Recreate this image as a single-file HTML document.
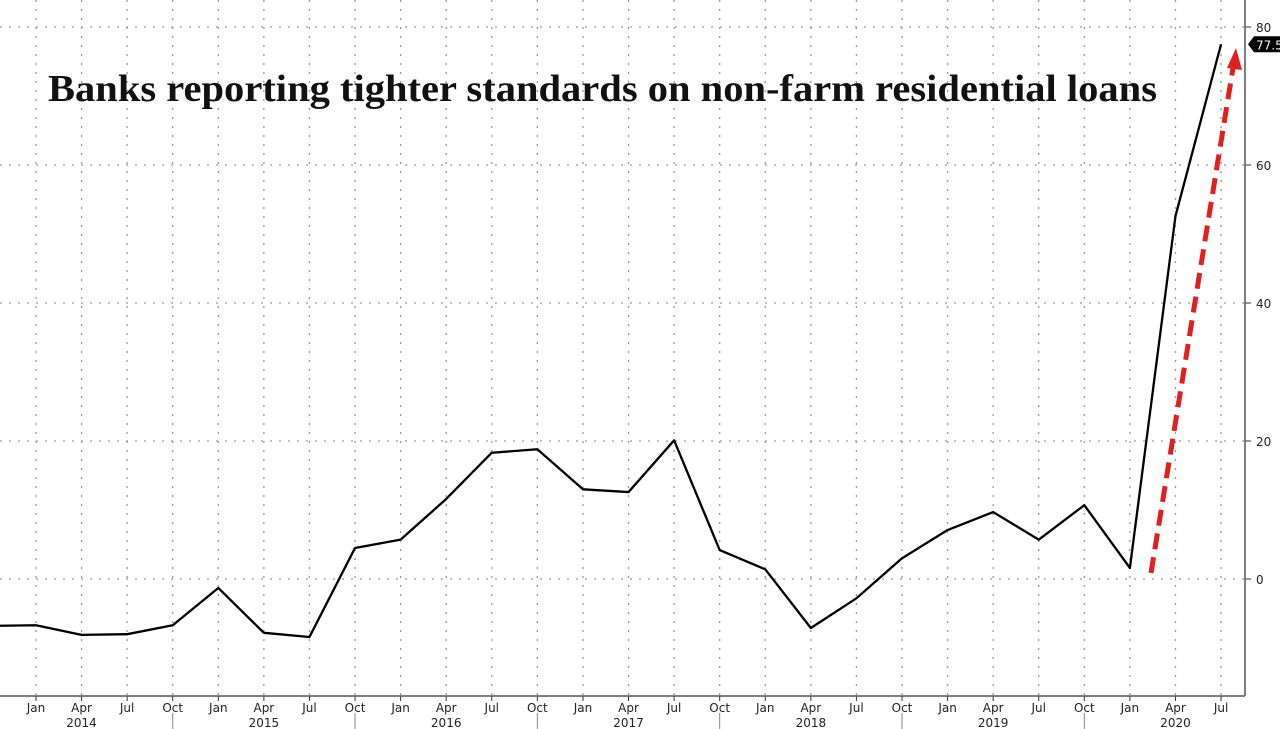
<!DOCTYPE html>
<html><head><meta charset="utf-8"><style>
body{margin:0;background:#fff;width:1280px;height:729px;overflow:hidden}
svg{display:block}
text{font-family:"DejaVu Sans","Liberation Sans",sans-serif;fill:#222}
</style></head><body>
<svg id="chart" width="1280" height="729" viewBox="0 0 1280 729" xmlns="http://www.w3.org/2000/svg">
<defs><clipPath id="plotclip"><rect x="0" y="0" width="1245" height="696"/></clipPath></defs>
<g id="grid"></g>
<g id="axes"></g>
<text x="48" y="101" textLength="1109" lengthAdjust="spacingAndGlyphs" style="font-family:'Liberation Serif',serif;font-weight:bold;font-size:38px;fill:#111">Banks reporting tighter standards on non-farm residential loans</text>
<g id="series" clip-path="url(#plotclip)"></g>
<g id="arrow">
<line x1="1151" y1="573" x2="1233" y2="68" stroke="#e0201f" stroke-width="5" stroke-dasharray="16,8"/>
<polygon points="1236,48 1227,68 1242,70" fill="#e0201f"/>
</g>
</svg>
<script>
const quarters=["Oct","Jan","Apr","Jul","Oct","Jan","Apr","Jul","Oct","Jan","Apr","Jul","Oct","Jan","Apr","Jul","Oct","Jan","Apr","Jul","Oct","Jan","Apr","Jul","Oct","Jan","Apr","Jul"];
const values=[-6.8,-6.7,-8.1,-8.0,-6.7,-1.3,-7.8,-8.4,4.5,5.7,11.6,18.3,18.8,13.0,12.6,20.1,4.2,1.4,-7.1,-2.8,3.0,7.1,9.7,5.7,10.7,1.6,52.6,77.5];
const years=["2014","2015","2016","2017","2018","2019","2020"];
const yTicks=[0,20,40,60,80];
const NS="http://www.w3.org/2000/svg";
const x0=-9.6,dx=45.58;
const X=i=>x0+i*dx;
const Y=v=>579-v*6.9;
function mk(t,a,p){const e=document.createElementNS(NS,t);for(const k in a)e.setAttribute(k,a[k]);p.appendChild(e);return e;}
const grid=document.getElementById('grid'),axes=document.getElementById('axes'),series=document.getElementById('series');
yTicks.forEach(v=>{
 const l=mk('line',{x1:0,x2:1245,y1:Y(v),y2:Y(v),stroke:'#999','stroke-width':1.3,'stroke-dasharray':'2,7'},grid);
 
 
 mk('line',{x1:1245,x2:1251,y1:Y(v),y2:Y(v),stroke:'#333'},axes);
 const t=mk('text',{x:1256,y:Y(v)+5,'font-size':12},axes);t.textContent=v;
 
 
});
quarters.forEach((q,i)=>{
 if(i===0)return;
 const x=X(i);
 const l=mk('line',{x1:x,x2:x,y1:0,y2:696,stroke:'#999','stroke-width':1.3,'stroke-dasharray':'2,7'},grid);
 
 
 mk('line',{x1:x,x2:x,y1:696,y2:701,stroke:'#333'},axes);
 const t=mk('text',{x:x,y:712,'font-size':12,'text-anchor':'middle'},axes);t.textContent=q;
 
 
 if(q==="Oct"){mk('line',{x1:x,x2:x,y1:713,y2:729,stroke:'#888'},axes);}
});
years.forEach((y,k)=>{
 const t=mk('text',{x:X(2+4*k),y:727,'font-size':12,'text-anchor':'middle'},axes);t.textContent=y;
 
 
});
mk('line',{x1:0,x2:1245,y1:696,y2:696,stroke:'#555','stroke-width':1.5},axes);
mk('line',{x1:1245,x2:1245,y1:0,y2:696,stroke:'#555','stroke-width':1.5},axes);
const p=mk('polyline',{points:values.map((v,i)=>X(i)+','+Y(v)).join(' '),fill:'none',stroke:'#000','stroke-width':2.3,'stroke-linejoin':'round'},series);


const last=values[values.length-1];
const g=mk('g',{},axes);


const ly=Y(last);
mk('polygon',{points:`1248,${ly} 1254,${ly-8} 1280,${ly-8} 1280,${ly+8} 1254,${ly+8}`,fill:'#000'},g);
const lt=mk('text',{x:1256,y:ly+5,'font-size':12,style:'fill:#fff'},g);lt.textContent=last;
</script>
</body></html>
